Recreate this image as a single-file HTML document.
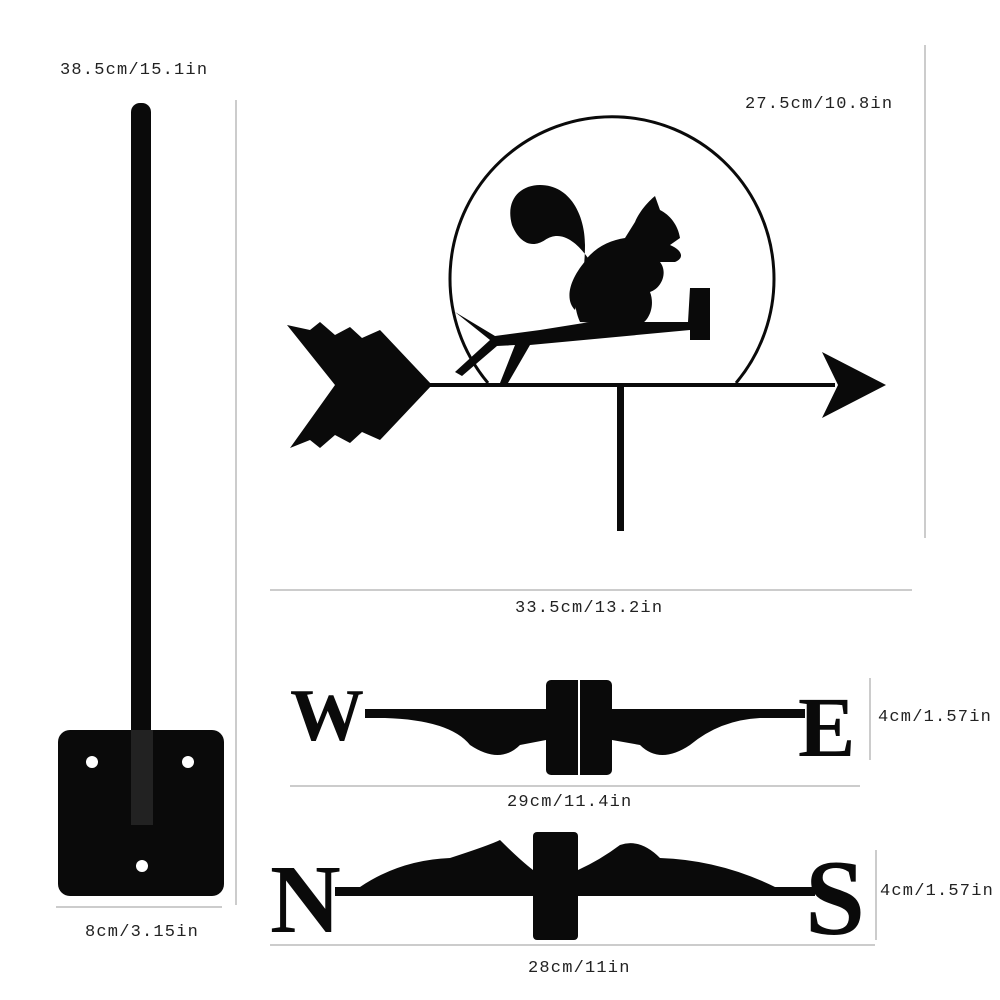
<!DOCTYPE html>
<html><head><meta charset="utf-8"><style>
html,body{margin:0;padding:0;background:#fff;}
svg{display:block;}
text{font-family:"Liberation Mono","DejaVu Sans Mono",monospace;font-size:17px;letter-spacing:1.2px;fill:#222;}
</style></head><body>
<svg width="1000" height="1000" viewBox="0 0 1000 1000">
<rect width="1000" height="1000" fill="#fff"/>
<text x="60" y="74">38.5cm/15.1in</text>
<rect x="131" y="103" width="20" height="722" rx="9" fill="#0a0a0a"/>
<rect x="58" y="730" width="166" height="166" rx="12" fill="#0a0a0a"/>
<rect x="131" y="730" width="22" height="95" fill="#222"/>
<circle cx="92" cy="762" r="6" fill="#fff"/>
<circle cx="188" cy="762" r="6" fill="#fff"/>
<circle cx="142" cy="866" r="6" fill="#fff"/>
<line x1="236" y1="100" x2="236" y2="905" stroke="#999" stroke-width="1"/>
<line x1="56" y1="907" x2="222" y2="907" stroke="#999" stroke-width="1"/>
<text x="85" y="936">8cm/3.15in</text>

<text x="745" y="108">27.5cm/10.8in</text>
<line x1="925" y1="45" x2="925" y2="538" stroke="#999"/>
<path d="M488 383 A162 162 0 1 1 736 383" fill="none" stroke="#0a0a0a" stroke-width="3"/>
<rect x="425" y="383" width="410" height="4" fill="#0a0a0a"/>
<polygon points="822,352 886,385 822,418 838,385" fill="#0a0a0a"/>
<polygon points="287,325 310,330 320,322 335,335 350,327 362,338 380,330 432,385 380,440 362,432 350,443 335,435 320,448 310,440 290,448 335,385" fill="#0a0a0a"/>
<rect x="617" y="385" width="7" height="146" fill="#0a0a0a"/>
<path d="M455 312 L490 340 L455 372 L462 376 L497 346 L515 345 L500 383 L508 383 L530 345 L690 330 L690 340 L710 340 L710 288 L690 288 L688 322 L590 322 L540 330 L495 336 Z" fill="#0a0a0a"/>
<path d="M580 322 C570 300 575 270 590 255 C600 245 612 240 625 238 L635 222 C640 210 650 200 655 196 L660 210 C670 215 678 225 680 238 L670 245 C682 250 685 258 675 262 L660 262 C668 272 662 288 650 292 C655 305 650 320 640 325 Z" fill="#0a0a0a"/>
<path d="M588 258 C575 240 560 230 545 240 C530 250 518 240 512 225 C505 200 520 185 540 185 C570 185 585 215 585 245 C585 270 580 295 575 310 C565 300 568 280 588 258 Z" fill="#0a0a0a"/>
<line x1="270" y1="590" x2="912" y2="590" stroke="#999"/>
<text x="515" y="612">33.5cm/13.2in</text>

<text x="290" y="740" style="font-family:'Liberation Serif',serif;font-size:74px;font-weight:bold;letter-spacing:0;fill:#0a0a0a">W</text>
<text x="798" y="756" style="font-family:'Liberation Serif',serif;font-size:86px;font-weight:bold;letter-spacing:0;fill:#0a0a0a">E</text>
<rect x="365" y="709" width="440" height="9" fill="#0a0a0a"/>
<rect x="546" y="680" width="66" height="95" rx="5" fill="#0a0a0a"/>
<line x1="579" y1="680" x2="579" y2="775" stroke="#fff" stroke-width="2"/>
<path d="M385 718 Q450 720 470 745 Q500 765 520 745 L546 740 L546 718 Z" fill="#0a0a0a"/>
<path d="M612 718 L612 740 L640 745 Q660 765 690 745 Q720 720 760 718 Z" fill="#0a0a0a"/>
<line x1="290" y1="786" x2="860" y2="786" stroke="#999"/>
<text x="507" y="806">29cm/11.4in</text>
<line x1="870" y1="678" x2="870" y2="760" stroke="#999"/>
<text x="878" y="721">4cm/1.57in</text>

<text x="270" y="932" style="font-family:'Liberation Serif',serif;font-size:98px;font-weight:bold;letter-spacing:0;fill:#0a0a0a">N</text>
<text x="805" y="934" style="font-family:'Liberation Serif',serif;font-size:108px;font-weight:bold;letter-spacing:0;fill:#0a0a0a">S</text>
<rect x="335" y="887" width="480" height="9" fill="#0a0a0a"/>
<rect x="533" y="832" width="45" height="108" rx="4" fill="#0a0a0a"/>
<path d="M360 887 Q400 860 450 858 Q490 845 500 840 Q520 860 533 870 L533 887 Z" fill="#0a0a0a"/>
<path d="M578 870 Q600 860 620 845 Q640 838 660 858 Q720 860 775 887 L578 887 Z" fill="#0a0a0a"/>
<line x1="270" y1="945" x2="875" y2="945" stroke="#999"/>
<text x="528" y="972">28cm/11in</text>
<line x1="876" y1="850" x2="876" y2="940" stroke="#999"/>
<text x="880" y="895">4cm/1.57in</text>
</svg>
</body></html>
